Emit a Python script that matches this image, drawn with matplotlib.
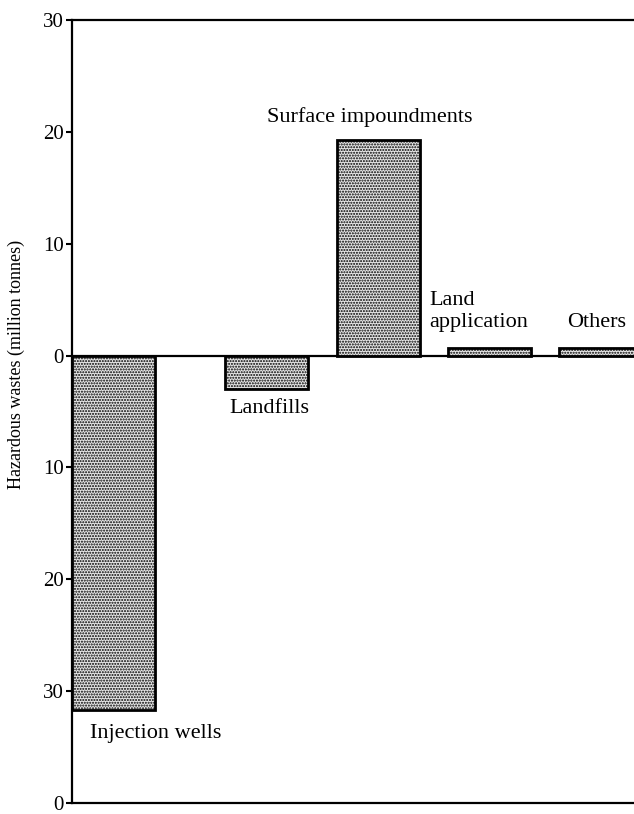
import matplotlib.pyplot as plt

# Hazardous waste disposal by method (million tonnes); below the zero line is drawn downward
categories = ["Injection wells", "Landfills", "Surface impoundments", "Land application", "Others"]
values = [-31.7, -3.0, 19.3, 0.7, 0.7]
tick_values = [30, 20, 10, 0, -10, -20, -30, -40]
tick_labels = ["30", "20", "10", "0", "10", "20", "30", "0"]

# layout (axis units), not data
bar_pos = [0.375, 1.75, 2.76, 3.76, 4.76]
bar_width = 0.75

plt.rcParams["font.family"] = ["Liberation Serif", "DejaVu Serif"]
plt.rcParams["hatch.linewidth"] = 1.0

fig = plt.figure(figsize=(6.34, 8.14), dpi=100)
ax = fig.add_axes([72 / 634, 11 / 814, 562 / 634, 783 / 814])

ax.bar(bar_pos, values, width=bar_width, color="#e6e6e6", edgecolor="black",
       linewidth=2.0, hatch="......", zorder=3)
ax.axhline(0, color="black", linewidth=1.6, zorder=2)

ax.set_xlim(0, 562 / 111)
ax.set_ylim(-40, 30)
ax.set_xticks([])
ax.set_yticks(tick_values)
ax.set_yticklabels(tick_labels)
ax.tick_params(axis="y", direction="out", length=4, width=1.5, pad=2, labelsize=15)

for side in ["left", "top", "bottom"]:
    ax.spines[side].set_linewidth(1.6)
ax.spines["right"].set_visible(False)

ax.set_ylabel("Hazardous wastes (million tonnes)", fontsize=13)
ax.yaxis.set_label_coords(-0.084, 0.56)

# category labels placed against their bars (offsets in points)
label_style = [
    ("left", "center", (-17, -17)),
    ("center", "center", (2, -14)),
    ("center", "center", (-6, 16)),
    ("left", "center", (-43, 26)),
    ("center", "center", (-3, 18)),
]
for name, x, v, (ha, va, off) in zip(categories, bar_pos, values, label_style):
    text = "Land\napplication" if name == "Land application" else name
    ax.annotate(text, xy=(x, v), xytext=off, textcoords="offset points",
                ha=ha, va=va, fontsize=16, linespacing=1.25)

fig.savefig("out.png", dpi=100)
